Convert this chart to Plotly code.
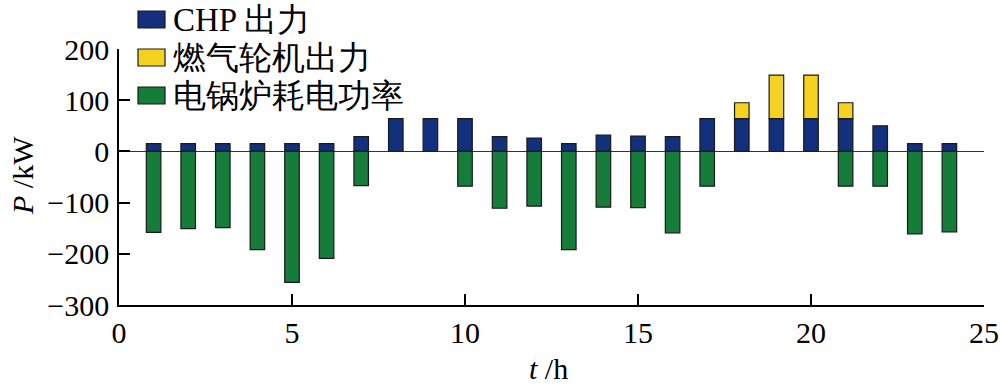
import plotly.graph_objects as go

hours = list(range(1, 25))
chp = [15, 15, 15, 15, 15, 15, 29, 64, 64, 64, 29, 26, 15, 32, 30, 29, 64, 64, 64, 64, 64, 50, 15, 15]
gt_hours = [18, 19, 20, 21]
gt = [31, 85, 85, 31]
boiler = [-158, -151, -149, -192, -256, -209, -67, None, None, -68, -111, -107, -192, -109, -110,
          -159, -68, None, None, None, -68, -68, -161, -157]
names = ["CHP 出力", "燃气轮机出力", "电锅炉耗电功率"]
colors = ["#13307f", "#f5d21f", "#157c3a"]
y_ticks = [-300, -200, -100, 0, 100, 200]
x_ticks = [0, 5, 10, 15, 20, 25]

FONT = "Liberation Serif"
W, H = 1000, 385
ML, MR, MT, MB = 119, 16, 49, 80

fig = go.Figure()
line = dict(color="#1a1a1a", width=1.2)
fig.add_trace(go.Bar(x=hours, y=chp, name=names[0], marker=dict(color=colors[0], line=line), width=0.42))
fig.add_trace(go.Bar(x=gt_hours, y=gt, name=names[1], marker=dict(color=colors[1], line=line), width=0.42))
fig.add_trace(go.Bar(x=hours, y=boiler, name=names[2], marker=dict(color=colors[2], line=line), width=0.42))

# custom legend (paper coords from pixel positions)
pw, ph = W - ML - MR, H - MT - MB
def px(x): return (x - ML) / pw
def py(y): return (H - MB - y) / ph
shapes = []
annos = []
for i, (n, c) in enumerate(zip(names, colors)):
    top = 11 + i * 38
    shapes.append(dict(type="rect", xref="paper", yref="paper", x0=px(138), x1=px(165),
                       y0=py(top + 17), y1=py(top), fillcolor=c, line=dict(color="#1a1a1a", width=1.2)))
    annos.append(dict(xref="paper", yref="paper", x=px(171), y=py(top + 8.5), text=n, showarrow=False,
                      xanchor="left", yanchor="middle", font=dict(family=FONT, size=33, color="black")))

annos.append(dict(xref="paper", yref="paper", x=px(22), y=py(176), text="<i>P</i> /kW", showarrow=False,
                  textangle=-90, xanchor="center", yanchor="middle", font=dict(family=FONT, size=30, color="black")))
annos.append(dict(xref="paper", yref="paper", x=px(548), y=py(368), text="<i>t</i> /h", showarrow=False,
                  xanchor="center", yanchor="middle", font=dict(family=FONT, size=30, color="black")))

fig.update_layout(
    width=W, height=H, barmode="relative", showlegend=False,
    margin=dict(l=ML, r=MR, t=MT, b=MB, autoexpand=False), plot_bgcolor="white", paper_bgcolor="white",
    font=dict(family=FONT, size=30, color="black"),
    shapes=shapes, annotations=annos,
    xaxis=dict(range=[0, 25], tickvals=x_ticks, showgrid=False, zeroline=False, showline=True,
               linecolor="black", linewidth=1.5, ticks="inside", ticklen=11, tickwidth=1.5, tickcolor="black",
               automargin=False),
    yaxis=dict(range=[-300, 200], tickvals=y_ticks, showgrid=False, zeroline=True, zerolinecolor="#333",
               zerolinewidth=1, showline=True, linecolor="black", linewidth=1.5, ticks="inside",
               ticklen=11, tickwidth=1.5, tickcolor="black", automargin=False, ticklabelstandoff=2),
)
fig.write_html("out.html", config={"displayModeBar": False},
               post_script="document.body.style.margin='0';document.body.style.overflow='hidden';")
